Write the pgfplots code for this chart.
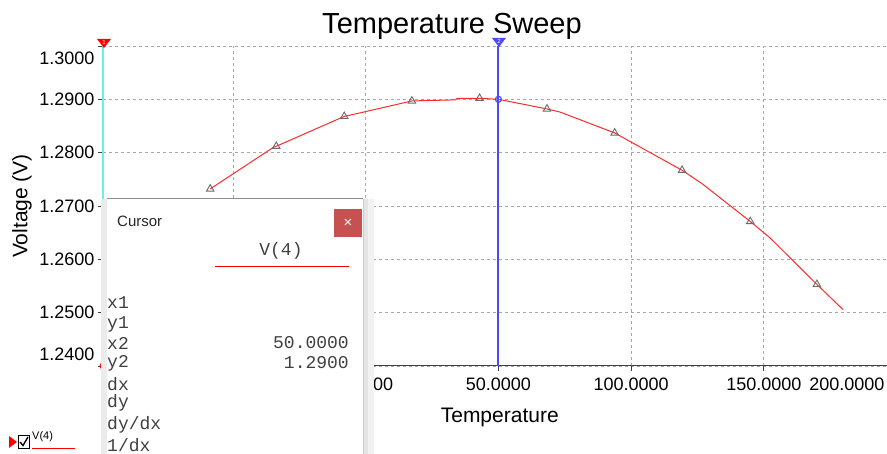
\documentclass[border=0pt]{standalone}
\usepackage{pgfplots}
\pgfplotsset{compat=1.18}
\usepackage{fontspec}
\setmainfont{Liberation Sans}
\newfontfamily\mono{Liberation Mono}
\definecolor{gridc}{HTML}{A8A8A8}
\definecolor{curvec}{HTML}{FF2A2A}
\definecolor{cyanc}{HTML}{66F0F0}
\definecolor{bluec}{HTML}{4A4AF5}
\definecolor{closec}{HTML}{C75050}
\definecolor{markc}{HTML}{6A6A6A}
\definecolor{axc}{HTML}{404040}

\pgfplotstableread{
x y
-58.6 1.2732
-34.8 1.2810
-33.7 1.2812
-8.1 1.2868
-0.9 1.2876
17.4 1.2897
33.8 1.2899
34.5 1.2902
42.9 1.2902
50.0 1.2900
68.3 1.2882
73.3 1.2876
93.8 1.2837
98.5 1.2824
119.2 1.2767
126.7 1.2742
144.9 1.2671
152.4 1.2640
170.0 1.2553
179.8 1.2506
}\curve

\pgfplotstableread{
x y
-58.6 1.2732
-33.7 1.2812
-8.1 1.2868
17.4 1.2897
42.9 1.2902
68.3 1.2882
93.8 1.2837
119.2 1.2767
144.9 1.2671
170.0 1.2553
}\marks

\begin{document}
\begin{tikzpicture}[x=1pt,y=1pt]
\useasboundingbox (0,0) rectangle (887,454);
\clip (0,0) rectangle (887,454);
\begin{axis}[
  at={(103pt,88pt)}, anchor=south west,
  scale only axis, width=793.5pt, height=320pt,
  xmin=-99, xmax=200, ymin=1.24, ymax=1.30,
  axis x line=bottom, axis y line=left,
  axis line style={-, draw=axc, line width=1pt},
  xtick={-50,0,50,100,150,200},
  xticklabels={-50.0000,0.0000,50.0000,100.0000,150.0000,\makebox[0pt][r]{200.0000\hspace{12pt}}},
  ytick={1.24,1.25,1.26,1.27,1.28,1.29,1.30},
  yticklabels={\raisebox{12pt}[\height][\depth]{1.2400},1.2500,1.2600,1.2700,1.2800,1.2900,\raisebox{-12pt}[\height][\depth]{1.3000}},
  tick align=outside, major tick length=5pt,
  tick style={draw=axc, line width=0.8pt},
  grid=major,
  major grid style={draw=gridc, dash pattern=on 3pt off 3pt, line width=0.8pt},
  ticklabel style={font=\fontsize{18}{20}\selectfont},
  xticklabel style={yshift=-3pt},
  xlabel={Temperature}, ylabel={Voltage (V)},
  every axis x label/.style={at={(axis description cs:0.5,0)}, anchor=center, yshift=-51pt, font=\fontsize{21}{24}\selectfont},
  every axis y label/.style={at={([xshift=-81pt]axis description cs:0,0.5)}, anchor=center, rotate=90, font=\fontsize{21}{24}\selectfont},
  clip=false,
]
\addplot[curvec, line width=1pt] table {\curve};
\addplot[only marks, mark=triangle, mark size=4.3pt, draw=markc, mark options={line width=0.9pt, fill=none}] table {\marks};
\addplot[cyanc, line width=2.6pt] coordinates {(-99,1.24) (-99,1.30)};
\addplot[bluec, line width=2pt] coordinates {(50,1.24) (50,1.30)};
\addplot[only marks, mark=o, mark size=3pt, bluec, mark options={line width=1.2pt}] coordinates {(50,1.29)};
\addplot[only marks, mark=o, mark size=3pt, red, mark options={line width=1pt}] coordinates {(-99,1.24)};
\end{axis}
% cursor heads
\fill[red] (97,415) -- (111,415) -- (104,406) -- cycle;
\node[white, font=\fontsize{6}{6}\selectfont, inner sep=0] at (104,412) {1};
\fill[bluec] (492,416) -- (506,416) -- (499,407) -- cycle;
\node[white, font=\fontsize{6}{6}\selectfont, inner sep=0] at (499,413) {2};
% title
\node[font=\fontsize{29}{32}\selectfont] at (452,428) {Temperature Sweep};
% cursor window
\fill[black!10] (363,0) rectangle (368,255);
\fill[black!5] (368,0) rectangle (374,255);
\fill[black!8] (101,0) rectangle (107,255);
\fill[white] (107,0) rectangle (363,255);
\draw[black!45, line width=1pt] (107,255) -- (363,255);
\draw[black!20, line width=0.6pt] (363,0) -- (363,255);
\fill[closec] (334,217) rectangle (362,245);
\node[white, font=\fontsize{15}{15}\selectfont] at (348,231) {×};
\node[anchor=west, inner sep=0, font=\fontsize{15}{18}\selectfont, text=black!85] at (117,233) {Cursor};
\node[font=\mono\fontsize{18}{20}\selectfont, text=black!75] at (281,203) {V(4)};
\draw[red, line width=1pt] (215,187.5) -- (349,187.5);
\begin{scope}[every node/.style={inner sep=0, font=\mono\fontsize{18}{20}\selectfont, text=black!75}]
\node[anchor=west] at (107,151) {x1};
\node[anchor=west] at (107,130) {y1};
\node[anchor=west] at (107,111) {x2};
\node[anchor=west] at (107,91) {y2};
\node[anchor=west] at (107,70) {dx};
\node[anchor=west] at (107,51) {dy};
\node[anchor=west] at (107,29) {dy/dx};
\node[anchor=west] at (107,9) {1/dx};
\node[anchor=east] at (349,111) {50.0000};
\node[anchor=east] at (349,91) {1.2900};
\end{scope}
% legend
\fill[red] (9,18) -- (9,6) -- (17,12) -- cycle;
\draw[black, line width=0.8pt] (18,6) rectangle (29,19);
\draw[black, line width=1.4pt] (20,12) -- (23,8.5) -- (28,17);
\node[anchor=south west, inner sep=0, font=\fontsize{11}{11}\selectfont] at (32,12) {V(4)};
\draw[red, line width=1pt] (32,5) -- (75,5);
\end{tikzpicture}
\end{document}
